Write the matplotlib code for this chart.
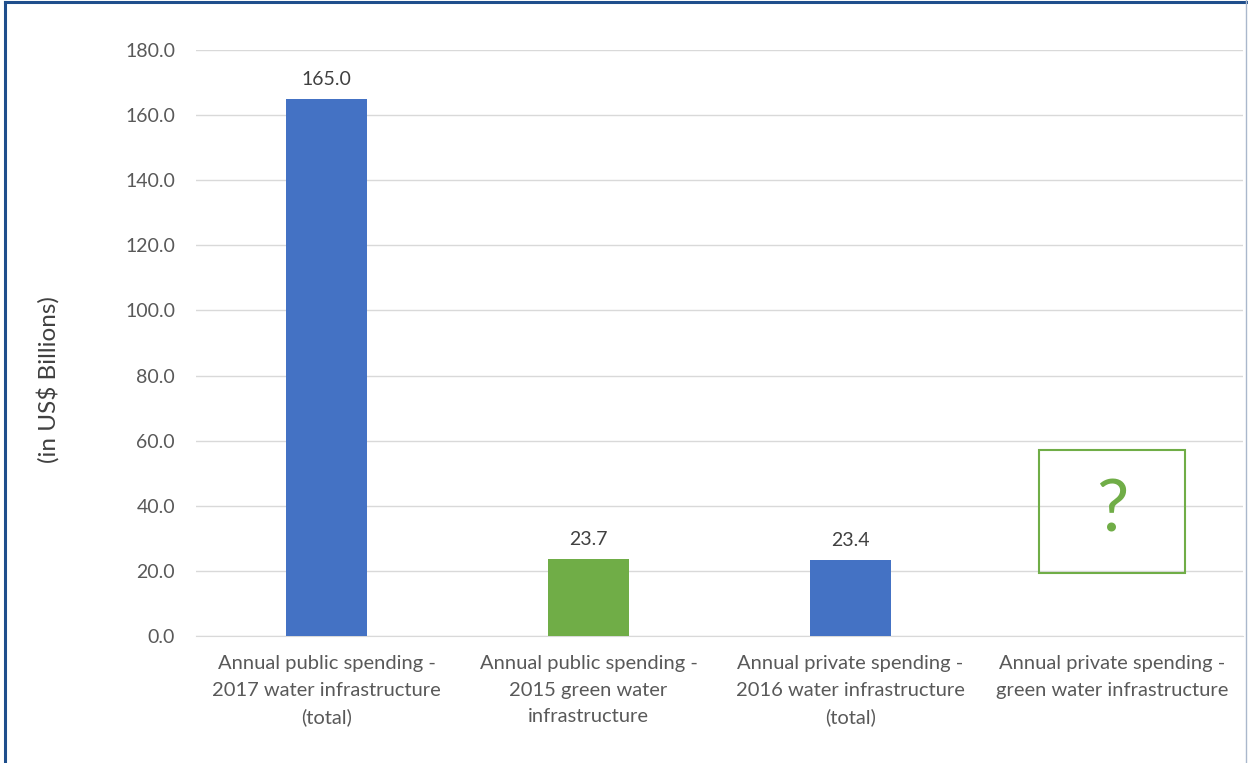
import matplotlib.pyplot as plt
from matplotlib.patches import Rectangle
from matplotlib.lines import Line2D

plt.rcParams['font.family'] = ['Lato', 'DejaVu Sans']

# ------------------------------
# Datos
# ------------------------------
categories = [
    "Annual public spending -\n2017 water infrastructure\n(total)",
    "Annual public spending -\n2015 green water\ninfrastructure",
    "Annual private spending -\n2016 water infrastructure\n(total)",
    "Annual private spending -\ngreen water infrastructure",
]
values = [165.0, 23.7, 23.4]          # la cuarta barra es desconocida
colors = ["#4472C4", "#70AD47", "#4472C4"]
unknown_low, unknown_high = 19.4, 57.1  # recuadro con "?"

text_col = "#595959"
green = "#70AD47"

fig = plt.figure(figsize=(12.48, 7.63), dpi=100)
ax = fig.add_axes([0.157, 0.1665, 0.839, 0.768])

x = list(range(len(values)))
bars = ax.bar(x, values, width=0.31, color=colors, zorder=3)

for xi, v in zip(x, values):
    ax.annotate(f"{v:.1f}", (xi, v), xytext=(0, 8), textcoords="offset points",
                ha="center", va="bottom", fontsize=14, color="#404040")

# recuadro de la categoria sin dato
ax.add_patch(Rectangle((3 - 0.28, unknown_low), 0.56, unknown_high - unknown_low,
                       fill=False, edgecolor=green, lw=1.5, zorder=3))
ax.text(3, (unknown_low + unknown_high) / 2, "?", ha="center", va="center",
        fontsize=52, color=green, zorder=4)

ax.set_xlim(-0.5, 3.5)
ax.set_ylim(0, 180)
ax.set_yticks(range(0, 181, 20))
ax.set_yticklabels([f"{t:.1f}" for t in range(0, 181, 20)])
ax.set_xticks(range(4))
ax.set_xticklabels(categories, linespacing=1.65)
ax.tick_params(axis="y", length=0, pad=15, labelsize=14, labelcolor=text_col)
ax.tick_params(axis="x", length=0, pad=14, labelsize=14.5, labelcolor=text_col)

ax.grid(axis="y", color="#D9D9D9", lw=1, zorder=0)
for s in ["top", "right", "left"]:
    ax.spines[s].set_visible(False)
ax.spines["bottom"].set_color("#D9D9D9")

fig.text(48 / 1248, 0.502, "(in US$ Billions)", rotation=90, ha="center", va="center",
         fontsize=17.5, color="#404040")

# marco de la figura
fig.add_artist(Line2D([5 / 1248, 5 / 1248], [0, 1 - 2 / 763], color="#1F4E8C", lw=2.2,
                      transform=fig.transFigure))
fig.add_artist(Line2D([5 / 1248, 1], [1 - 2 / 763, 1 - 2 / 763], color="#1F4E8C", lw=2.2,
                      transform=fig.transFigure))
fig.add_artist(Line2D([1246 / 1248, 1246 / 1248], [0, 1], color="#AAB8CC", lw=1,
                      transform=fig.transFigure))

fig.savefig("out.png", dpi=100)
